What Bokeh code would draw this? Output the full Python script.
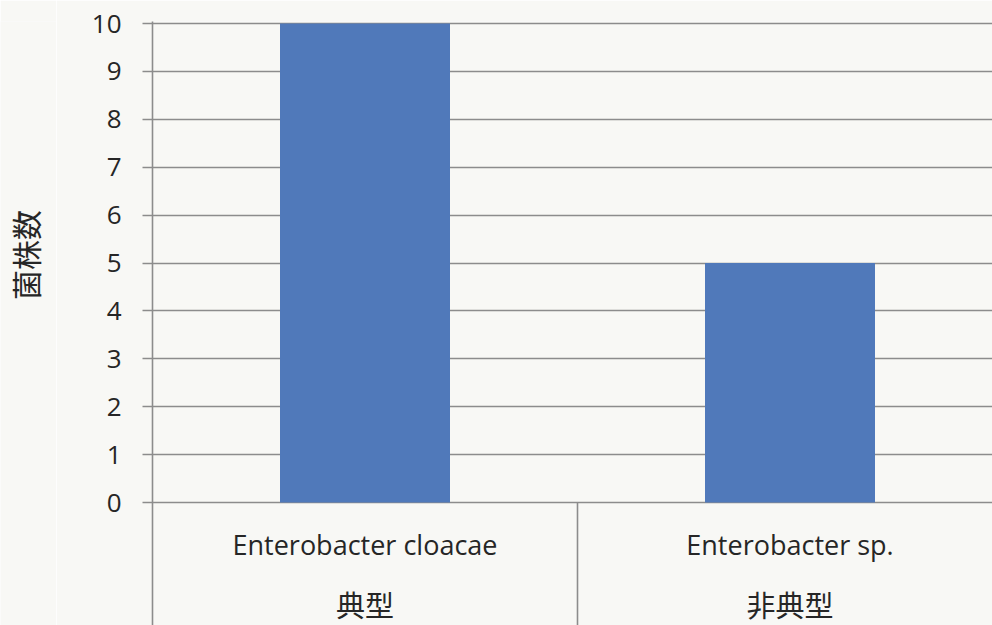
from bokeh.plotting import figure
from bokeh.layouts import row
from bokeh.models import Range1d, FixedTicker
from bokeh.core.properties import value
from bokeh.embed import file_html
from bokeh.resources import INLINE

# Strain counts by species, grouped as typical / atypical
groups = ["典型", "非典型"]
species = ["Enterobacter cloacae", "Enterobacter sp."]
counts = [10, 5]
y_ticks = [0, 1, 2, 3, 4, 5, 6, 7, 8, 9, 10]
y_title = "菌株数"

BG = "#f8f8f5"
LINE = "#8c8c8c"
TEXT = "#262626"
BAR = "#5079ba"
LATIN = "Open Sans"
CJK = "Noto Sans CJK JP"

centers = [i + 0.5 for i in range(len(species))]
boundaries = [float(i) for i in range(1, len(species) + 1)]

W, H = 992, 625
title_w = 56            # strip holding the rotated y-axis title
left, top = 152, 21     # frame position inside the full page
frame_w = W - left
frame_h = H - top
px_per_cat = 425.0
px_per_unit = 47.9
zero_px = 502 - top     # distance of y=0 from the frame top

y_range = Range1d(-(frame_h - zero_px) / px_per_unit, zero_px / px_per_unit)
x_range = Range1d(0, frame_w / px_per_cat)

p = figure(width=W - title_w, height=H, output_backend="svg",
           toolbar_location=None, x_range=x_range, y_range=y_range,
           min_border_left=left - title_w, min_border_right=0,
           min_border_top=top, min_border_bottom=0, x_axis_location=None)
p.background_fill_color = BG
p.border_fill_color = BG
p.outline_line_color = None

p.xgrid.visible = False
p.ygrid.ticker = FixedTicker(ticks=y_ticks)
p.ygrid.grid_line_color = LINE
p.ygrid.grid_line_width = 1.6

ax = p.yaxis[0]
ax.ticker = FixedTicker(ticks=y_ticks)
ax.axis_line_color = LINE
ax.axis_line_width = 1.6
ax.major_tick_line_color = LINE
ax.major_tick_line_width = 1.6
ax.major_tick_out = 10
ax.major_tick_in = 0
ax.minor_tick_line_color = None
ax.major_label_text_font = LATIN
ax.major_label_text_font_size = "26px"
ax.major_label_text_color = TEXT
ax.major_label_standoff = 21

p.vbar(x=centers, top=counts, bottom=0, width=0.4, fill_color=BAR,
       line_color=None)

# group separators below the baseline
p.segment(x0=boundaries, y0=[0] * len(boundaries), x1=boundaries,
          y1=[y_range.start] * len(boundaries), line_color=LINE,
          line_width=1.6)

# two-level category labels: species, then group
p.text(x=centers, y=[0] * len(centers), text=species, y_offset=42,
       text_align="center", text_baseline="middle",
       text_font=value(LATIN), text_font_size="27px", text_color=TEXT)
p.text(x=centers, y=[0] * len(centers), text=groups, y_offset=101,
       text_align="center", text_baseline="middle",
       text_font=value(CJK), text_font_size="29px", text_color=TEXT)

# y-axis title strip sharing the vertical scale
t = figure(width=title_w, height=H, output_backend="svg",
           toolbar_location=None, x_range=Range1d(0, title_w), y_range=y_range,
           min_border_left=0, min_border_right=0, min_border_top=top,
           min_border_bottom=0, x_axis_location=None, y_axis_location=None)
t.background_fill_color = BG
t.border_fill_color = BG
t.outline_line_color = None
t.grid.visible = False
t.text(x=[24], y=[y_ticks[len(y_ticks) // 2]], text=[y_title], y_offset=-8,
       angle=1.5707963, text_align="center", text_baseline="middle",
       text_font=value(CJK), text_font_size="30px", text_color=TEXT)

layout = row(t, p, spacing=0)
html = file_html(layout, INLINE)
html = html.replace("<body>", '<body style="margin:0;background:%s">' % BG, 1)
open("out.html", "w").write(html)
